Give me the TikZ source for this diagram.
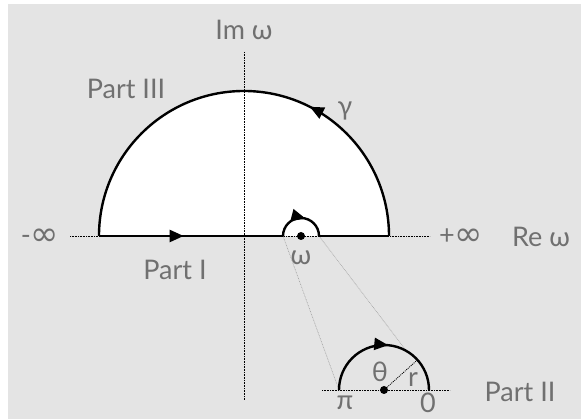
\documentclass[tikz,border=0pt]{standalone}
\usepackage{fontspec}
\setmainfont{Lato}
\newfontfamily\symfont{DejaVu Sans}
\usetikzlibrary{arrows.meta,decorations.markings,calc}
\definecolor{bggray}{RGB}{228,228,228}
\definecolor{txtgray}{RGB}{112,112,112}
\definecolor{lingray}{RGB}{165,165,165}
\tikzset{
  lbl/.style={text=txtgray,font=\fontsize{27}{27}\selectfont,inner sep=0pt},
  contour/.style={line width=2.4pt,black},
  axisline/.style={dash pattern=on 0.8pt off 0.8pt,line width=0.8pt,black},
  zoomline/.style={dash pattern=on 0.8pt off 0.8pt,line width=0.6pt,lingray},
  midarrow/.style={postaction={decorate},decoration={markings,mark=at position #1 with {\arrow{Triangle[length=14pt,width=12pt]}}}},
}
\newcommand{\infsym}{\raisebox{-1pt}{\symfont\fontsize{34}{34}\selectfont ∞}}
\begin{document}
\begin{tikzpicture}[x=1pt,y=1pt]
\useasboundingbox (0,0) rectangle (581,419);
\fill[bggray] (8,0) rectangle (581,415);
% key points
\coordinate (O) at (244,183);
\coordinate (L) at (99,183);
\coordinate (R) at (389,183);
\coordinate (w) at (301,183);
\coordinate (wl) at (283,183);
\coordinate (wr) at (319,183);
\coordinate (Z) at (384,29);
\coordinate (zl) at (339,29);
\coordinate (zr) at (429,29);
% white half disk
\fill[white] (L) arc (180:0:145) -- cycle;
% axes
\draw[axisline] (70,183) coordinate (xa) -- (430,183) coordinate (xb);
\draw[axisline] (244,367) coordinate (ya) -- (244,19) coordinate (yb);
% zoom lines
\coordinate (zrr) at ($(Z)+(60:45)$);
\draw[zoomline] (wl) -- (zl);
\draw[zoomline] (wr) -- (zrr);
% contour
\draw[contour,midarrow=0.46] (L) -- (wl);
\draw[contour,midarrow=0.58] (wl) arc (180:0:18);
\draw[contour] (wr) -- (R);
\draw[contour,midarrow=0.35] (R) arc (0:180:145);
\fill (w) circle (4);
% zoomed detail
\draw[axisline] (322,29) coordinate (za) -- (450,29) coordinate (zb);
\draw[contour,midarrow=0.53] (zl) arc (180:0:45);
\coordinate (zrad) at ($(Z)+(42:45)$);
\draw[dash pattern=on 1pt off 1pt,line width=0.8pt] (Z) -- (zrad);
\fill (Z) circle (4);
% labels
\node[lbl] (imw) at (244,389) {Im ω};
\node[lbl] (p3) at (126,330) {Part III};
\node[lbl] (gam) at (345,308) {γ};
\node[lbl] (minf) at (40,182) {-\infsym};
\node[lbl] (pinf) at (461,182) {+\infsym};
\node[lbl] (rew) at (541,182) {Re ω};
\node[lbl] (p1) at (175,149) {Part I};
\node[lbl] (wlab) at (301,161) {ω};
\node[lbl] (th) at (380,47) {θ};
\node[lbl] (rl) at (413,39) {r};
\node[lbl] (pil) at (345,16) {π};
\node[lbl] (zero) at (428,16) {0};
\node[lbl] (p2) at (520,27) {Part II};
\end{tikzpicture}
\end{document}
